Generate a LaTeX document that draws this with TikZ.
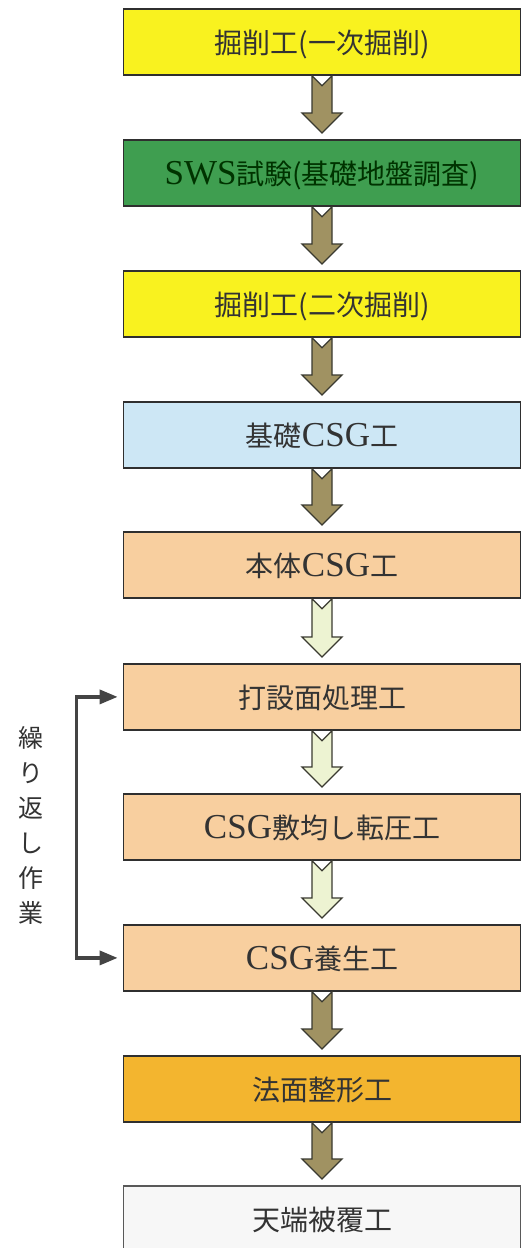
\documentclass[tikz,border=0pt]{standalone}
\usepackage{fontspec}
\newfontfamily\jp{Noto Sans CJK JP}
\newfontfamily\latfont{Liberation Serif}
\newcommand\lat[1]{{\latfont\fontsize{35}{35}\selectfont #1}}
\usetikzlibrary{arrows.meta,calc}
\definecolor{cyellow}{HTML}{F9F21F}
\definecolor{cgreen}{HTML}{3F9E50}
\definecolor{cblue}{HTML}{CDE7F5}
\definecolor{cpeach}{HTML}{F8CF9F}
\definecolor{corange}{HTML}{F3B52F}
\definecolor{cwhite}{HTML}{F7F7F7}
\definecolor{boxline}{HTML}{2F2F2F}
\definecolor{txt}{HTML}{333333}
\definecolor{darkarrow}{HTML}{A09262}
\definecolor{lightarrow}{HTML}{EDF3D2}
\definecolor{arrline}{HTML}{3A3A30}
\definecolor{brk}{HTML}{444444}
\tikzset{
  box/.style={draw=boxline, line width=1.8pt, minimum width=397pt, minimum height=66pt,
    inner sep=0pt, text height=25pt, text depth=2pt,
    font=\jp\fontsize{28}{30}\selectfont, text=txt, anchor=north},
  flowline/.style={draw=arrline, line width=1.3pt, line join=miter},
  bracketline/.style={draw=brk, line width=3.5pt},
  vtext/.style={font=\jp\fontsize{25}{35}\selectfont, text=txt, align=center, inner sep=0pt}
}
\newcommand\flowarrow[3]{%
  \draw[flowline, fill=#3] let \p1=(#1.south), \p2=(#2.north) in
    (\x1-10pt,\y1) -- (\x1,\y1-10pt) -- (\x1+10pt,\y1) -- (\x1+10pt,\y2+26pt)
    -- (\x1+20pt,\y2+26pt) -- (\x1,\y2+6pt) -- (\x1-20pt,\y2+26pt)
    -- (\x1-10pt,\y2+26pt) -- cycle;}
\begin{document}
\begin{tikzpicture}[x=1pt,y=-1pt]
\useasboundingbox (0,0) rectangle (522,1248);
\fill[white] (0,0) rectangle (522,1248);
\node[box, fill=cyellow] (b1) at (322,8) {掘削工(一次掘削)};
\node[box, fill=cgreen, text=black!80!green] (b2) at (322,139) {\lat{SWS}試験(基礎地盤調査)};
\node[box, fill=cyellow] (b3) at (322,270) {掘削工(二次掘削)};
\node[box, fill=cblue] (b4) at (322,401) {基礎\lat{CSG}工};
\node[box, fill=cpeach] (b5) at (322,531) {本体\lat{CSG}工};
\node[box, fill=cpeach] (b6) at (322,663) {打設面処理工};
\node[box, fill=cpeach] (b7) at (322,793) {\lat{CSG}敷均し転圧工};
\node[box, fill=cpeach] (b8) at (322,924) {\lat{CSG}養生工};
\node[box, fill=corange] (b9) at (322,1055) {法面整形工};
\node[box, fill=cwhite, draw=boxline!80] (b10) at (322,1185) {天端被覆工};
\flowarrow{b1}{b2}{darkarrow}
\flowarrow{b2}{b3}{darkarrow}
\flowarrow{b3}{b4}{darkarrow}
\flowarrow{b4}{b5}{darkarrow}
\flowarrow{b5}{b6}{lightarrow}
\flowarrow{b6}{b7}{lightarrow}
\flowarrow{b7}{b8}{lightarrow}
\flowarrow{b8}{b9}{darkarrow}
\flowarrow{b9}{b10}{darkarrow}
\draw[bracketline, {Triangle[length=18pt,width=14pt]}-{Triangle[length=18pt,width=14pt]}]
  ([xshift=-5pt]b6.west) -- ++(-41,0) |- ([xshift=-5pt]b8.west);
\node[vtext] (rep) at (31,825) {繰\\り\\返\\し\\作\\業};
\end{tikzpicture}
\end{document}
